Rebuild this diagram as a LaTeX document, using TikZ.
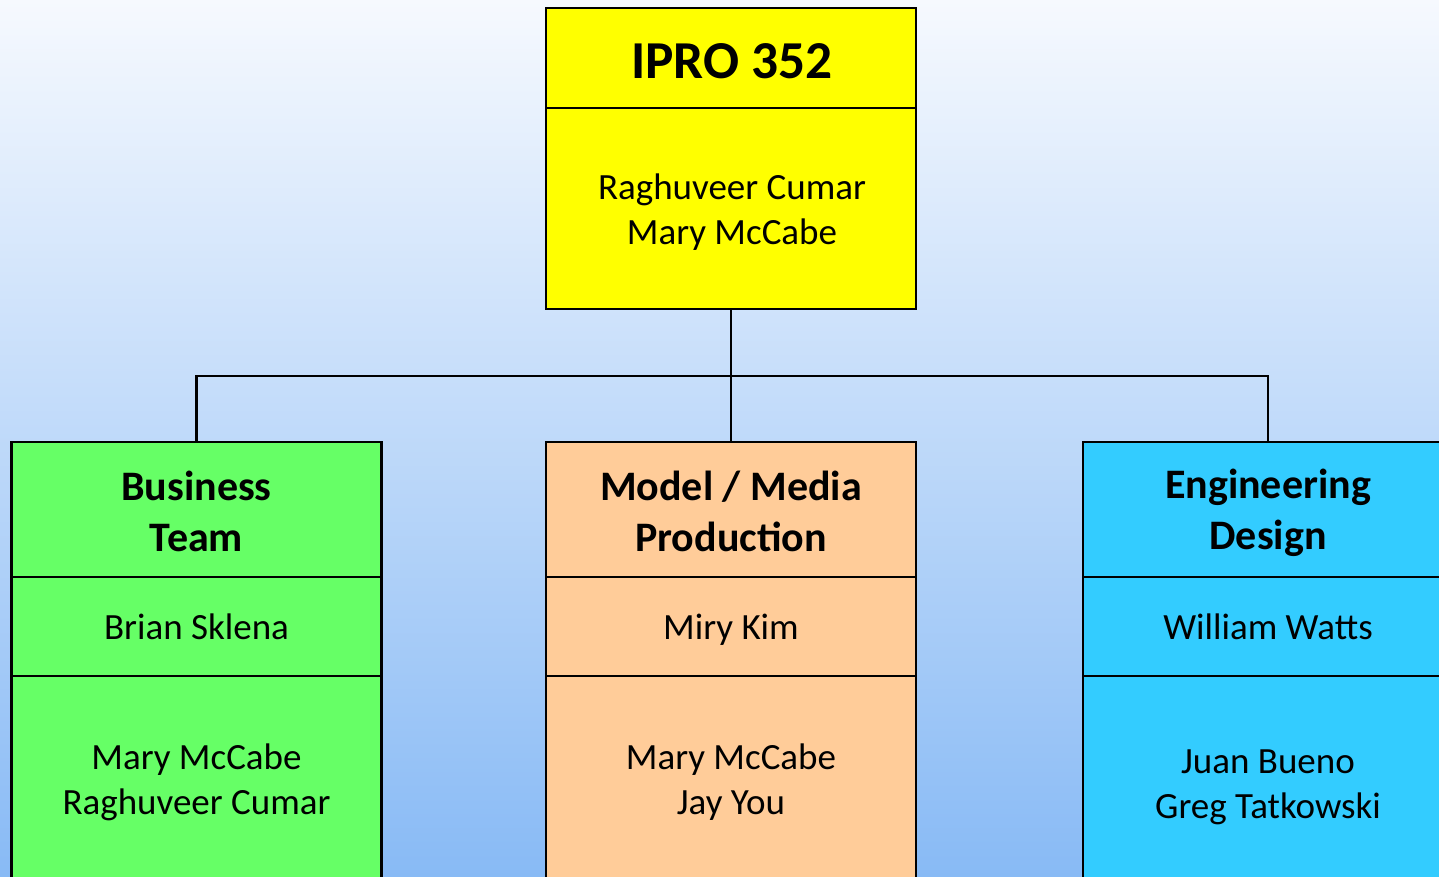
\documentclass[tikz,border=0pt]{standalone}
\usepackage{fontspec}
\setmainfont{Carlito}
\definecolor{cyel}{HTML}{FFFF00}
\definecolor{cgrn}{HTML}{66FF66}
\definecolor{corg}{HTML}{FFCC99}
\definecolor{cblu}{HTML}{33CCFF}
\definecolor{bgtop}{RGB}{246,249,254}
\definecolor{bgbot}{RGB}{136,186,245}
\begin{document}
\begin{tikzpicture}[x=0.75pt,y=-0.75pt,
  sect/.style={draw=black,line width=2.2pt,rectangle,inner sep=0pt,minimum width=277.5pt},
  txt/.style={inner sep=0pt,align=center,text=black},
  ttl/.style={txt,font=\fontsize{40}{48}\selectfont\bfseries},
  hd/.style={txt,font=\fontsize{31.5}{38}\selectfont\bfseries},
  nm/.style={txt,font=\fontsize{27.75}{33.6}\selectfont},
  conn/.style={draw=black,line width=2pt}]
\useasboundingbox (0,0) rectangle (1439,876);
\clip (0,0) rectangle (1439,876);
\shade[top color=bgtop,bottom color=bgbot] (0,0) rectangle (1439,876);
% top box
\node[sect,fill=cyel,minimum height=75pt] (tt) at (731,58) {};
\node[sect,fill=cyel,minimum height=150.75pt] (tb) at (731,208.5) {};
\node[ttl] (ttx) at (732,61) {IPRO 352};
\node[nm] (tbx) at (732,212) {Raghuveer Cumar\\Mary McCabe};
% green
\node[sect,fill=cgrn,minimum height=101.25pt] (gh) at (196.5,509.5) {};
\node[sect,fill=cgrn,minimum height=74.25pt] (gn) at (196.5,626.5) {};
\node[sect,fill=cgrn,minimum height=156pt] (gm) at (196.5,780) {};
\node[hd] (ghx) at (196.5,511.5) {Business\\Team};
\node[nm] (gnx) at (196.5,627) {Brian Sklena};
\node[nm] (gmx) at (196.5,782) {Mary McCabe\\Raghuveer Cumar};
% orange
\node[sect,fill=corg,minimum height=101.25pt] (oh) at (731,509.5) {};
\node[sect,fill=corg,minimum height=74.25pt] (on) at (731,626.5) {};
\node[sect,fill=corg,minimum height=156pt] (om) at (731,780) {};
\node[hd] (ohx) at (731,511.5) {Model / Media\\Production};
\node[nm] (onx) at (731,629.5) {Miry Kim};
\node[nm] (omx) at (731,782) {Mary McCabe\\Jay You};
% blue
\node[sect,fill=cblu,minimum height=101.25pt] (eh) at (1268,509.5) {};
\node[sect,fill=cblu,minimum height=74.25pt] (en) at (1268,626.5) {};
\node[sect,fill=cblu,minimum height=163.5pt] (em) at (1268,785) {};
\node[hd] (ehx) at (1268,513) {Engineering\\Design};
\node[nm] (enx) at (1268,627) {William Watts};
\node[nm] (emx) at (1268,787) {Juan Bueno\\Greg Tatkowski};
% connectors
\coordinate (bus) at (731,376);
\draw[conn] (tb.south) -- (bus);
\draw[conn] (bus) -| (gh.north);
\draw[conn] (bus) -| (eh.north);
\draw[conn] (bus) -- (oh.north);
\end{tikzpicture}
\end{document}
